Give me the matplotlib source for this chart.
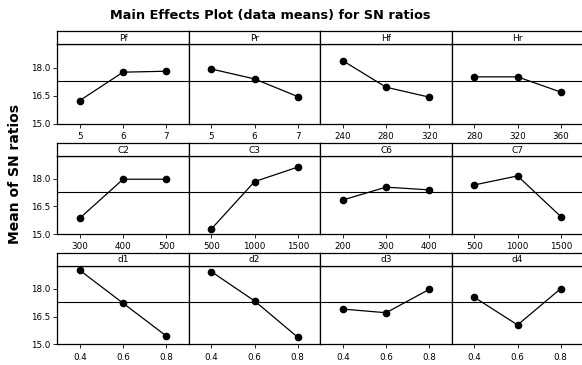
import matplotlib.pyplot as plt

#~~~Data~~~
factors = ['Pf', 'Pr', 'Hf', 'Hr', 'C2', 'C3', 'C6', 'C7', 'd1', 'd2', 'd3', 'd4']
levels = [['5', '6', '7'], ['5', '6', '7'], ['240', '280', '320'], ['280', '320', '360'],
          ['300', '400', '500'], ['500', '1000', '1500'], ['200', '300', '400'], ['500', '1000', '1500'],
          ['0.4', '0.6', '0.8'], ['0.4', '0.6', '0.8'], ['0.4', '0.6', '0.8'], ['0.4', '0.6', '0.8']]
sn_means = [[16.25, 17.76, 17.81], [17.93, 17.40, 16.46], [18.37, 16.96, 16.43], [17.51, 17.51, 16.70],
            [15.86, 17.98, 17.98], [15.27, 17.85, 18.64], [16.85, 17.55, 17.40], [17.67, 18.16, 15.95],
            [19.01, 17.23, 15.45], [18.94, 17.35, 15.38], [16.91, 16.71, 17.98], [17.55, 16.05, 18.02]]
grand_mean = 17.3
yticks = [15.0, 16.5, 18.0]

W, H = 582, 365
fig = plt.figure(figsize=(W/100, H/100), dpi=100)

#panel layout in pixels (strip top, plot top, plot bottom) for each row
rows = [(31, 44, 124), (143.3, 155.7, 234), (252.7, 265.7, 344.3)]
col_left = 57.3
col_w = 131.5

for i, name in enumerate(factors):
    r, c = divmod(i, 4)
    s_top, p_top, p_bot = rows[r]
    x0 = (col_left + c*col_w)/W
    ax = fig.add_axes([x0, 1 - p_bot/H, col_w/W, (p_bot - p_top)/H])
    ax.axhline(grand_mean, color='black', lw=0.8, zorder=1)
    ax.plot([1, 2, 3], sn_means[i], '-o', color='black', lw=0.9, ms=4.5, zorder=3)
    ax.set_xlim(0.48, 3.52)
    ax.set_ylim(15.0, 19.26)
    ax.set_xticks([1, 2, 3])
    ax.set_xticklabels(levels[i], fontsize=6.3)
    ax.tick_params(axis='x', direction='out', length=3, width=0.6, pad=3)
    if c == 0:
        ax.set_yticks(yticks)
        ax.set_yticklabels(['%.1f' % v for v in yticks], fontsize=6.3)
        ax.tick_params(axis='y', direction='out', length=3, width=0.6, pad=2)
    else:
        ax.set_yticks([])
    for sp in ax.spines.values():
        sp.set_linewidth(0.9)

    #strip with factor name on top
    sax = fig.add_axes([x0, 1 - p_top/H, col_w/W, (p_top - s_top)/H])
    sax.set_xticks([])
    sax.set_yticks([])
    for sp in sax.spines.values():
        sp.set_linewidth(0.9)
    sax.text(0.5, 0.45, name, ha='center', va='center', fontsize=6.5, transform=sax.transAxes)

fig.text(270/W, 1 - 15/H, 'Main Effects Plot (data means) for SN ratios',
         ha='center', va='center', fontsize=9.3, fontweight='bold')
fig.text(15/W, 1 - 174/H, 'Mean of SN ratios', ha='center', va='center',
         rotation=90, fontsize=10, fontweight='bold')

fig.savefig('out.png', dpi=100)
